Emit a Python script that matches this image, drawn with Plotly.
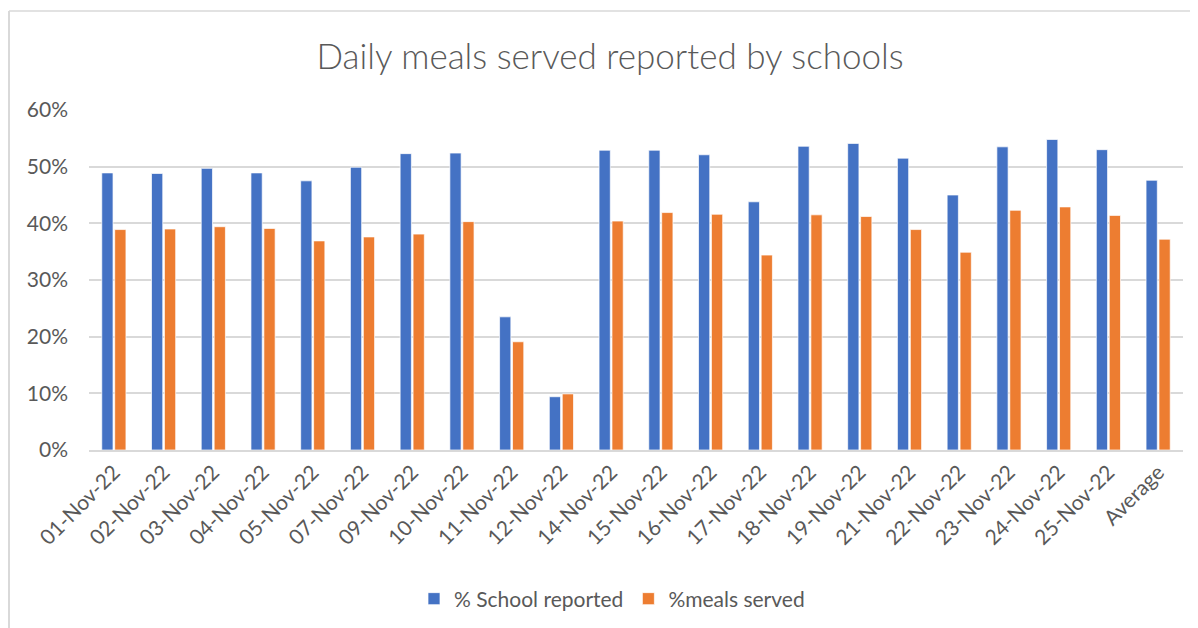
import plotly.graph_objects as go

categories = ["01-Nov-22", "02-Nov-22", "03-Nov-22", "04-Nov-22", "05-Nov-22", "07-Nov-22",
              "09-Nov-22", "10-Nov-22", "11-Nov-22", "12-Nov-22", "14-Nov-22", "15-Nov-22",
              "16-Nov-22", "17-Nov-22", "18-Nov-22", "19-Nov-22", "21-Nov-22", "22-Nov-22",
              "23-Nov-22", "24-Nov-22", "25-Nov-22", "Average"]

school_reported = [0.489, 0.488, 0.497, 0.489, 0.475, 0.499, 0.523, 0.524, 0.235, 0.094, 0.529,
                   0.529, 0.521, 0.438, 0.536, 0.541, 0.515, 0.450, 0.535, 0.548, 0.530, 0.476]

meals_served = [0.389, 0.390, 0.394, 0.391, 0.369, 0.376, 0.381, 0.403, 0.191, 0.099, 0.404,
                0.419, 0.416, 0.344, 0.415, 0.412, 0.389, 0.349, 0.423, 0.429, 0.414, 0.372]

y_ticks = [0, 0.1, 0.2, 0.3, 0.4, 0.5, 0.6]

FONT = "Lato"
TXT = "#595959"
GRID = "#D9D9D9"

# page renders the figure with an 8px body margin; work in page pixels and subtract it
OFF = 8
PAGE_W, PAGE_H = 1198, 628
W, H = PAGE_W - OFF, PAGE_H - OFF
PL, PR, PT, PB = 89, 1183, 110, 450  # plot area in page pixels
L, T = PL - OFF, PT - OFF
R = W - (PR - OFF)
B = H - (PB - OFF)
pw = PR - PL
ph = PB - PT

def px_x(x):
    return (x - PL) / pw

def px_y(y):
    return (PB - y) / ph

fig = go.Figure()
fig.add_trace(go.Bar(x=categories, y=school_reported, name="% School reported",
                     marker=dict(color="#4472C4", line=dict(color="white", width=0.7))))
fig.add_trace(go.Bar(x=categories, y=meals_served, name="%meals served",
                     marker=dict(color="#ED7D31", line=dict(color="white", width=0.7))))

fig.update_layout(
    width=W, height=H,
    margin=dict(l=L, r=R, t=T, b=B, autoexpand=False),
    paper_bgcolor="white", plot_bgcolor="white",
    barmode="group", bargap=0.48, bargroupgap=0.13,
    title=dict(text="Daily meals served reported by schools", x=(610 - OFF) / W, xref="container",
               xanchor="center", y=1 - (57 - OFF) / H, yref="container", yanchor="middle",
               font=dict(family=FONT, size=35, color=TXT, weight=300)),
    font=dict(family=FONT, color=TXT),
    showlegend=True,
    legend=dict(orientation="h", x=px_x(612), xanchor="center", y=px_y(599), yanchor="middle",
                font=dict(family=FONT, size=21, color=TXT), itemwidth=30,
                bgcolor="rgba(0,0,0,0)"),
    xaxis=dict(tickangle=-45, tickfont=dict(family=FONT, size=21, color=TXT),
               showline=True, linecolor=GRID, linewidth=1.5, ticks="", showgrid=False),
    yaxis=dict(range=[0, 0.6], tickvals=y_ticks, tickformat=".0%",
               tickfont=dict(family=FONT, size=21, color=TXT), ticklabelstandoff=20,
               showgrid=True, gridcolor=GRID, gridwidth=1.5, zeroline=False, showline=False),
    shapes=[
        dict(type="line", xref="paper", yref="paper", x0=px_x(9), x1=px_x(9),
             y0=px_y(11), y1=px_y(640), line=dict(color=GRID, width=2)),
        dict(type="line", xref="paper", yref="paper", x0=px_x(9), x1=px_x(1210),
             y0=px_y(11), y1=px_y(11), line=dict(color=GRID, width=1.5)),
    ],
)

fig.write_html("out.html")
